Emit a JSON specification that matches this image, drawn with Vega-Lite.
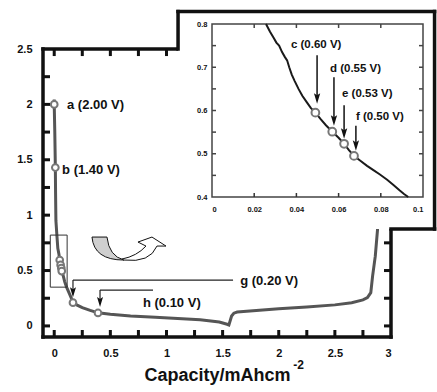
{
  "$schema": "https://vega.github.io/schema/vega-lite/v6.json",
  "width": 348,
  "height": 288,
  "autosize": {"type": "none"},
  "padding": {"left": 43, "top": 49, "right": 46, "bottom": 55},
  "background": "white",
  "config": {
    "view": {"stroke": null},
    "font": "Liberation Sans",
    "axis": {"grid": false, "ticks": false, "domain": false, "labelFont": "Liberation Sans", "labelFontWeight": "bold", "labelColor": "#111", "titleFont": "Liberation Sans"}
  },
  "datasets": {
    "main": [
      {"cap": 0, "v": 2.045}, {"cap": 0, "v": 2.0}, {"cap": 0.005, "v": 1.75}, {"cap": 0.01, "v": 1.43},
      {"cap": 0.012, "v": 1.2}, {"cap": 0.015, "v": 0.95}, {"cap": 0.025, "v": 0.8}, {"cap": 0.032, "v": 0.7},
      {"cap": 0.042, "v": 0.647}, {"cap": 0.049, "v": 0.595}, {"cap": 0.057, "v": 0.551}, {"cap": 0.063, "v": 0.523},
      {"cap": 0.067, "v": 0.495}, {"cap": 0.08, "v": 0.453}, {"cap": 0.093, "v": 0.4}, {"cap": 0.11, "v": 0.35},
      {"cap": 0.14, "v": 0.28}, {"cap": 0.167, "v": 0.215}, {"cap": 0.2, "v": 0.19}, {"cap": 0.25, "v": 0.165},
      {"cap": 0.32, "v": 0.14}, {"cap": 0.39, "v": 0.118}, {"cap": 0.5, "v": 0.105}, {"cap": 0.68, "v": 0.09},
      {"cap": 0.9, "v": 0.078}, {"cap": 1.1, "v": 0.067}, {"cap": 1.3, "v": 0.055}, {"cap": 1.47, "v": 0.035},
      {"cap": 1.54, "v": 0.015}, {"cap": 1.556, "v": 0.008}, {"cap": 1.58, "v": 0.09}, {"cap": 1.6, "v": 0.115},
      {"cap": 1.63, "v": 0.125}, {"cap": 1.8, "v": 0.14}, {"cap": 2.0, "v": 0.155}, {"cap": 2.25, "v": 0.17},
      {"cap": 2.5, "v": 0.19}, {"cap": 2.65, "v": 0.21}, {"cap": 2.75, "v": 0.235}, {"cap": 2.79, "v": 0.255},
      {"cap": 2.82, "v": 0.3}, {"cap": 2.836, "v": 0.45}, {"cap": 2.86, "v": 0.63}, {"cap": 2.88, "v": 0.87},
      {"cap": 2.9, "v": 1.2}, {"cap": 2.92, "v": 1.8}
    ],
    "mainPoints": [
      {"label": "a", "cap": 0, "v": 2.0}, {"label": "b", "cap": 0.01, "v": 1.43},
      {"label": "c", "cap": 0.049, "v": 0.595}, {"label": "d", "cap": 0.057, "v": 0.551},
      {"label": "e", "cap": 0.063, "v": 0.523}, {"label": "f", "cap": 0.067, "v": 0.495},
      {"label": "g", "cap": 0.167, "v": 0.21}, {"label": "h", "cap": 0.39, "v": 0.117}
    ],
    "mainArrows": [
      {"x1": 1.593, "y1": 0.414, "x2": 0.167, "y2": 0.414},
      {"x1": 0.167, "y1": 0.414, "x2": 0.167, "y2": 0.305},
      {"x1": 0.88, "y1": 0.324, "x2": 0.408, "y2": 0.324},
      {"x1": 0.408, "y1": 0.324, "x2": 0.408, "y2": 0.216}
    ],
    "mainHeads": [
      {"cap": 0.167, "v": 0.305}, {"cap": 0.408, "v": 0.216}
    ],
    "mainLabels": [
      {"text": "a (2.00 V)", "cap": 0.114, "v": 1.99},
      {"text": "b (1.40 V)", "cap": 0.07, "v": 1.407},
      {"text": "g (0.20 V)", "cap": 1.657, "v": 0.405},
      {"text": "h (0.10 V)", "cap": 0.79, "v": 0.206}
    ],
    "inset": [
      {"cap": 0.0256, "v": 0.8}, {"cap": 0.0275, "v": 0.782}, {"cap": 0.0292, "v": 0.768}, {"cap": 0.0305, "v": 0.757},
      {"cap": 0.0318, "v": 0.75}, {"cap": 0.0332, "v": 0.735}, {"cap": 0.0345, "v": 0.724}, {"cap": 0.0356, "v": 0.716},
      {"cap": 0.0366, "v": 0.7}, {"cap": 0.0378, "v": 0.683}, {"cap": 0.0392, "v": 0.668}, {"cap": 0.041, "v": 0.65},
      {"cap": 0.0428, "v": 0.634}, {"cap": 0.0448, "v": 0.62}, {"cap": 0.0468, "v": 0.606}, {"cap": 0.049, "v": 0.595},
      {"cap": 0.0515, "v": 0.58}, {"cap": 0.054, "v": 0.566}, {"cap": 0.057, "v": 0.551}, {"cap": 0.06, "v": 0.537},
      {"cap": 0.0626, "v": 0.523}, {"cap": 0.065, "v": 0.508}, {"cap": 0.0673, "v": 0.495}, {"cap": 0.07, "v": 0.485},
      {"cap": 0.0735, "v": 0.472}, {"cap": 0.0765, "v": 0.462}, {"cap": 0.0796, "v": 0.452}, {"cap": 0.083, "v": 0.44},
      {"cap": 0.086, "v": 0.428}, {"cap": 0.089, "v": 0.415}, {"cap": 0.091, "v": 0.407}, {"cap": 0.093, "v": 0.4}
    ],
    "insetPoints": [
      {"label": "c", "cap": 0.049, "v": 0.595}, {"label": "d", "cap": 0.057, "v": 0.551},
      {"label": "e", "cap": 0.0626, "v": 0.523}, {"label": "f", "cap": 0.0673, "v": 0.495}
    ],
    "insetArrows": [
      {"cap": 0.0498, "y1": 0.728, "y2": 0.628}, {"cap": 0.0578, "y1": 0.677, "y2": 0.577},
      {"cap": 0.0626, "y1": 0.612, "y2": 0.547}, {"cap": 0.0682, "y1": 0.565, "y2": 0.519}
    ],
    "insetLabels": [
      {"text": "c (0.60 V)", "cap": 0.0374, "v": 0.751},
      {"text": "d (0.55 V)", "cap": 0.0559, "v": 0.695},
      {"text": "e (0.53 V)", "cap": 0.0616, "v": 0.637},
      {"text": "f (0.50 V)", "cap": 0.0682, "v": 0.586}
    ]
  },
  "resolve": {"scale": {"x": "independent", "y": "independent"}, "axis": {"x": "independent", "y": "independent"}},
  "layer": [
    {
      "resolve": {"axis": {"x": "independent", "y": "independent"}},
      "layer": [
        {
          "data": {"name": "main"},
          "mark": {"type": "line", "color": "#555", "strokeWidth": 3},
          "encoding": {
            "x": {"field": "cap", "type": "quantitative", "scale": {"domain": [-0.1, 3]},
              "axis": {"orient": "bottom", "zindex": 1, "values": [0, 0.5, 1, 1.5, 2, 2.5, 3], "format": "~g",
                "labelPadding": 10, "labelFontSize": 11, "title": "Capacity/mAhcm", "titleFontSize": 18,
                "titleFontWeight": "bold", "titlePadding": 8, "titleColor": "#111"}},
            "y": {"field": "v", "type": "quantitative", "scale": {"domain": [-0.1, 2.5]},
              "axis": {"orient": "left", "zindex": 1, "values": [0, 0.5, 1, 1.5, 2, 2.5], "format": "~g",
                "labelPadding": 11, "labelFontSize": 11, "title": null}}
          }
        },
        {
          "data": {"values": [{}]},
          "mark": {"type": "rect", "fill": null, "stroke": "#333", "strokeWidth": 1},
          "encoding": {
            "x": {"datum": -0.035, "type": "quantitative", "scale": {"domain": [-0.1, 3]}, "axis": null},
            "x2": {"datum": 0.115},
            "y": {"datum": 0.35, "type": "quantitative", "scale": {"domain": [-0.1, 2.5]}, "axis": null},
            "y2": {"datum": 0.82}
          }
        },
        {
          "data": {"name": "mainPoints"},
          "mark": {"type": "point", "shape": "circle", "filled": true, "fill": "white", "stroke": "#777", "strokeWidth": 2, "size": 45, "opacity": 1},
          "encoding": {
            "x": {"field": "cap", "type": "quantitative", "scale": {"domain": [-0.1, 3]}, "axis": null},
            "y": {"field": "v", "type": "quantitative", "scale": {"domain": [-0.1, 2.5]}, "axis": null}
          }
        },
        {
          "data": {"name": "mainArrows"},
          "mark": {"type": "rule", "color": "#222", "strokeWidth": 1.2},
          "encoding": {
            "x": {"field": "x1", "type": "quantitative", "scale": {"domain": [-0.1, 3]}, "axis": null},
            "x2": {"field": "x2"},
            "y": {"field": "y1", "type": "quantitative", "scale": {"domain": [-0.1, 2.5]}, "axis": null},
            "y2": {"field": "y2"}
          }
        },
        {
          "data": {"name": "mainHeads"},
          "mark": {"type": "point", "shape": "M -0.6 -1 L 0 -0.6 L 0.6 -1 L 0 1 Z", "filled": true, "color": "#111", "size": 100, "opacity": 1},
          "encoding": {
            "x": {"field": "cap", "type": "quantitative", "scale": {"domain": [-0.1, 3]}, "axis": null},
            "y": {"field": "v", "type": "quantitative", "scale": {"domain": [-0.1, 2.5]}, "axis": null}
          }
        },
        {
          "data": {"name": "mainLabels"},
          "mark": {"type": "text", "align": "left", "baseline": "middle", "fontWeight": "bold", "fontSize": 13, "color": "#111"},
          "encoding": {
            "x": {"field": "cap", "type": "quantitative", "scale": {"domain": [-0.1, 3]}, "axis": null},
            "y": {"field": "v", "type": "quantitative", "scale": {"domain": [-0.1, 2.5]}, "axis": null},
            "text": {"field": "text"}
          }
        },
        {
          "data": {"values": [{}]},
          "mark": {"type": "point", "shape": "M -36 -12 L -21 -12 Q -19 7 -4 11 Q -34 11 -36 -12 Z", "size": 4, "filled": true, "fill": "#cfcfcf", "stroke": "#111", "strokeWidth": 1, "opacity": 1},
          "encoding": {
            "x": {"datum": 0.657, "type": "quantitative", "scale": {"domain": [-0.1, 3]}, "axis": null},
            "y": {"datum": 0.694, "type": "quantitative", "scale": {"domain": [-0.1, 2.5]}, "axis": null}
          }
        },
        {
          "data": {"values": [{}]},
          "mark": {"type": "point", "shape": "M -4 11 Q 22 14 29 -3 L 38 -3 L 24 -12 L 10 -7 L 18 -3 Q 9 7 -6 10 Z", "size": 4, "filled": true, "fill": "white", "stroke": "#111", "strokeWidth": 1, "opacity": 1},
          "encoding": {
            "x": {"datum": 0.657, "type": "quantitative", "scale": {"domain": [-0.1, 3]}, "axis": null},
            "y": {"datum": 0.694, "type": "quantitative", "scale": {"domain": [-0.1, 2.5]}, "axis": null}
          }
        },
        {
          "data": {"values": [{}]},
          "mark": {"type": "text", "text": "-2", "align": "left", "baseline": "middle", "fontWeight": "bold", "fontSize": 12, "color": "#111"},
          "encoding": {
            "x": {"datum": 2.13, "type": "quantitative", "scale": {"domain": [-0.1, 3]}, "axis": null},
            "y": {"datum": -0.35, "type": "quantitative", "scale": {"domain": [-0.1, 2.5]}, "axis": null}
          }
        },
        {
          "data": {"values": [{}]},
          "mark": {"type": "rule", "color": "#111", "strokeWidth": 3.5, "strokeCap": "square"},
          "encoding": {
            "x": {"datum": -0.1, "type": "quantitative", "scale": {"domain": [-0.1, 3]}, "axis": null},
            "x2": {"datum": 1.103},
            "y": {"datum": 2.5, "type": "quantitative", "scale": {"domain": [-0.1, 2.5]}, "axis": null}
          }
        },
        {
          "data": {"values": [{}]},
          "mark": {"type": "rule", "color": "#111", "strokeWidth": 3.5, "strokeCap": "square"},
          "encoding": {
            "x": {"datum": -0.1, "type": "quantitative", "scale": {"domain": [-0.1, 3]}, "axis": null},
            "x2": {"datum": 3.0},
            "y": {"datum": -0.1, "type": "quantitative", "scale": {"domain": [-0.1, 2.5]}, "axis": null}
          }
        },
        {
          "data": {"values": [{}]},
          "mark": {"type": "rule", "color": "#111", "strokeWidth": 3.5, "strokeCap": "square"},
          "encoding": {
            "x": {"datum": -0.1, "type": "quantitative", "scale": {"domain": [-0.1, 3]}, "axis": null},
            "y": {"datum": -0.1, "type": "quantitative", "scale": {"domain": [-0.1, 2.5]}, "axis": null},
            "y2": {"datum": 2.5}
          }
        },
        {
          "data": {"values": [{}]},
          "mark": {"type": "rule", "color": "#111", "strokeWidth": 3.5, "strokeCap": "square"},
          "encoding": {
            "x": {"datum": 3.0, "type": "quantitative", "scale": {"domain": [-0.1, 3]}, "axis": null},
            "y": {"datum": -0.1, "type": "quantitative", "scale": {"domain": [-0.1, 2.5]}, "axis": null},
            "y2": {"datum": 0.875}
          }
        },
        {
          "data": {"values": [{"pos": 0}, {"pos": 0.25}, {"pos": 0.5}, {"pos": 0.75}, {"pos": 1}, {"pos": 1.25}, {"pos": 1.5}, {"pos": 1.75}, {"pos": 2}, {"pos": 2.25}, {"pos": 2.5}, {"pos": 2.75}]},
          "mark": {"type": "point", "shape": "M -0.43 -1 L 0.43 -1 L 0.43 1 L -0.43 1 Z", "filled": true, "color": "#111", "size": 49, "opacity": 1},
          "encoding": {
            "x": {"field": "pos", "type": "quantitative", "scale": {"domain": [-0.1, 3]}, "axis": null},
            "y": {"datum": -0.0684, "type": "quantitative", "scale": {"domain": [-0.1, 2.5]}, "axis": null}
          }
        },
        {
          "data": {"values": [{"pos": 0}, {"pos": 0.25}, {"pos": 0.5}, {"pos": 0.75}, {"pos": 1}]},
          "mark": {"type": "point", "shape": "M -0.43 -1 L 0.43 -1 L 0.43 1 L -0.43 1 Z", "filled": true, "color": "#111", "size": 49, "opacity": 1},
          "encoding": {
            "x": {"field": "pos", "type": "quantitative", "scale": {"domain": [-0.1, 3]}, "axis": null},
            "y": {"datum": 2.468, "type": "quantitative", "scale": {"domain": [-0.1, 2.5]}, "axis": null}
          }
        },
        {
          "data": {"values": [{"pos": 0}, {"pos": 0.25}, {"pos": 0.5}, {"pos": 0.75}, {"pos": 1}, {"pos": 1.25}, {"pos": 1.5}, {"pos": 1.75}, {"pos": 2}, {"pos": 2.25}]},
          "mark": {"type": "point", "shape": "M -1 -0.43 L 1 -0.43 L 1 0.43 L -1 0.43 Z", "filled": true, "color": "#111", "size": 49, "opacity": 1},
          "encoding": {
            "y": {"field": "pos", "type": "quantitative", "scale": {"domain": [-0.1, 2.5]}, "axis": null},
            "x": {"datum": -0.0688, "type": "quantitative", "scale": {"domain": [-0.1, 3]}, "axis": null}
          }
        },
        {
          "data": {"values": [{"pos": 0}, {"pos": 0.25}, {"pos": 0.5}, {"pos": 0.75}]},
          "mark": {"type": "point", "shape": "M -1 -0.43 L 1 -0.43 L 1 0.43 L -1 0.43 Z", "filled": true, "color": "#111", "size": 49, "opacity": 1},
          "encoding": {
            "y": {"field": "pos", "type": "quantitative", "scale": {"domain": [-0.1, 2.5]}, "axis": null},
            "x": {"datum": 2.969, "type": "quantitative", "scale": {"domain": [-0.1, 3]}, "axis": null}
          }
        },
        {
          "data": {"values": [{}]},
          "mark": {"type": "rect", "fill": "white", "stroke": null},
          "encoding": {
            "x": {"datum": 1.103, "type": "quantitative", "scale": {"domain": [-0.1, 3]}, "axis": null},
            "x2": {"datum": 3.388},
            "y": {"datum": 0.875, "type": "quantitative", "scale": {"domain": [-0.1, 2.5]}, "axis": null},
            "y2": {"datum": 2.838}
          }
        },
        {
          "data": {"values": [{}]},
          "mark": {"type": "rule", "color": "#111", "strokeWidth": 3.5, "strokeCap": "square"},
          "encoding": {
            "x": {"datum": 1.103, "type": "quantitative", "scale": {"domain": [-0.1, 3]}, "axis": null},
            "x2": {"datum": 3.388},
            "y": {"datum": 2.838, "type": "quantitative", "scale": {"domain": [-0.1, 2.5]}, "axis": null}
          }
        },
        {
          "data": {"values": [{}]},
          "mark": {"type": "rule", "color": "#111", "strokeWidth": 3.5, "strokeCap": "square"},
          "encoding": {
            "x": {"datum": 1.103, "type": "quantitative", "scale": {"domain": [-0.1, 3]}, "axis": null},
            "y": {"datum": 2.5, "type": "quantitative", "scale": {"domain": [-0.1, 2.5]}, "axis": null},
            "y2": {"datum": 2.838}
          }
        },
        {
          "data": {"values": [{}]},
          "mark": {"type": "rule", "color": "#111", "strokeWidth": 3.5, "strokeCap": "square"},
          "encoding": {
            "x": {"datum": 3.388, "type": "quantitative", "scale": {"domain": [-0.1, 3]}, "axis": null},
            "y": {"datum": 0.875, "type": "quantitative", "scale": {"domain": [-0.1, 2.5]}, "axis": null},
            "y2": {"datum": 2.838}
          }
        },
        {
          "data": {"values": [{}]},
          "mark": {"type": "rule", "color": "#111", "strokeWidth": 3.5, "strokeCap": "square"},
          "encoding": {
            "x": {"datum": 3.0, "type": "quantitative", "scale": {"domain": [-0.1, 3]}, "axis": null},
            "x2": {"datum": 3.388},
            "y": {"datum": 0.875, "type": "quantitative", "scale": {"domain": [-0.1, 2.5]}, "axis": null}
          }
        }
      ]
    },
    {
      "resolve": {"axis": {"x": "independent", "y": "independent"}},
      "layer": [
        {
          "data": {"values": [{}]},
          "mark": {"type": "rect", "fill": null, "stroke": "#444", "strokeWidth": 1.5},
          "encoding": {
            "x": {"datum": 0, "type": "quantitative", "scale": {"domain": [0, 0.1], "range": [169, 380]}, "axis": null},
            "x2": {"datum": 0.1},
            "y": {"datum": 0.4, "type": "quantitative", "scale": {"domain": [0.4, 0.8], "range": [148, -25]}, "axis": null},
            "y2": {"datum": 0.8}
          }
        },
        {
          "data": {"name": "inset"},
          "mark": {"type": "line", "color": "#1a1a1a", "strokeWidth": 2},
          "encoding": {
            "x": {"field": "cap", "type": "quantitative", "scale": {"domain": [0, 0.1], "range": [169, 380]},
              "axis": {"orient": "bottom", "offset": -140, "zindex": 1, "values": [0, 0.02, 0.04, 0.06, 0.08, 0.1],
                "format": "~g", "labelPadding": 8, "labelFontSize": 7.5, "title": null}},
            "y": {"field": "v", "type": "quantitative", "scale": {"domain": [0.4, 0.8], "range": [148, -25]},
              "axis": {"orient": "left", "offset": -169, "zindex": 1, "values": [0.4, 0.5, 0.6, 0.7, 0.8],
                "format": "~g", "labelPadding": 5, "labelFontSize": 7.5, "title": null}}
          }
        },
        {
          "data": {"name": "insetPoints"},
          "mark": {"type": "point", "shape": "circle", "filled": true, "fill": "white", "stroke": "#777", "strokeWidth": 2, "size": 60, "opacity": 1},
          "encoding": {
            "x": {"field": "cap", "type": "quantitative", "scale": {"domain": [0, 0.1], "range": [169, 380]}, "axis": null},
            "y": {"field": "v", "type": "quantitative", "scale": {"domain": [0.4, 0.8], "range": [148, -25]}, "axis": null}
          }
        },
        {
          "data": {"name": "insetArrows"},
          "mark": {"type": "rule", "color": "#111", "strokeWidth": 1.5},
          "encoding": {
            "x": {"field": "cap", "type": "quantitative", "scale": {"domain": [0, 0.1], "range": [169, 380]}, "axis": null},
            "y": {"field": "y1", "type": "quantitative", "scale": {"domain": [0.4, 0.8], "range": [148, -25]}, "axis": null},
            "y2": {"field": "y2"}
          }
        },
        {
          "data": {"name": "insetArrows"},
          "mark": {"type": "point", "shape": "M -0.6 -1 L 0 -0.6 L 0.6 -1 L 0 1 Z", "filled": true, "color": "#111", "size": 110, "opacity": 1},
          "encoding": {
            "x": {"field": "cap", "type": "quantitative", "scale": {"domain": [0, 0.1], "range": [169, 380]}, "axis": null},
            "y": {"field": "y2", "type": "quantitative", "scale": {"domain": [0.4, 0.8], "range": [148, -25]}, "axis": null}
          }
        },
        {
          "data": {"name": "insetLabels"},
          "mark": {"type": "text", "align": "left", "baseline": "middle", "fontWeight": "bold", "fontSize": 11.5, "color": "#111"},
          "encoding": {
            "x": {"field": "cap", "type": "quantitative", "scale": {"domain": [0, 0.1], "range": [169, 380]}, "axis": null},
            "y": {"field": "v", "type": "quantitative", "scale": {"domain": [0.4, 0.8], "range": [148, -25]}, "axis": null},
            "text": {"field": "text"}
          }
        },
        {
          "data": {"values": [{"pos": 0.02}, {"pos": 0.04}, {"pos": 0.06}, {"pos": 0.08}]},
          "mark": {"type": "point", "shape": "M -0.375 -1 L 0.375 -1 L 0.375 1 L -0.375 1 Z", "filled": true, "color": "#333", "size": 16, "opacity": 1},
          "encoding": {
            "x": {"field": "pos", "type": "quantitative", "scale": {"domain": [0, 0.1], "range": [169, 380]}, "axis": null},
            "y": {"datum": 0.4046, "type": "quantitative", "scale": {"domain": [0.4, 0.8], "range": [148, -25]}, "axis": null}
          }
        },
        {
          "data": {"values": [{"pos": 0.02}, {"pos": 0.04}, {"pos": 0.06}, {"pos": 0.08}]},
          "mark": {"type": "point", "shape": "M -0.375 -1 L 0.375 -1 L 0.375 1 L -0.375 1 Z", "filled": true, "color": "#444", "size": 16, "opacity": 1},
          "encoding": {
            "x": {"field": "pos", "type": "quantitative", "scale": {"domain": [0, 0.1], "range": [169, 380]}, "axis": null},
            "y": {"datum": 0.7954, "type": "quantitative", "scale": {"domain": [0.4, 0.8], "range": [148, -25]}, "axis": null}
          }
        },
        {
          "data": {"values": [{"pos": 0.45}, {"pos": 0.5}, {"pos": 0.55}, {"pos": 0.6}, {"pos": 0.65}, {"pos": 0.7}, {"pos": 0.75}]},
          "mark": {"type": "point", "shape": "M -1 -0.375 L 1 -0.375 L 1 0.375 L -1 0.375 Z", "filled": true, "color": "#444", "size": 16, "opacity": 1},
          "encoding": {
            "y": {"field": "pos", "type": "quantitative", "scale": {"domain": [0.4, 0.8], "range": [148, -25]}, "axis": null},
            "x": {"datum": 0.00095, "type": "quantitative", "scale": {"domain": [0, 0.1], "range": [169, 380]}, "axis": null}
          }
        },
        {
          "data": {"values": [{"pos": 0.45}, {"pos": 0.5}, {"pos": 0.55}, {"pos": 0.6}, {"pos": 0.65}, {"pos": 0.7}, {"pos": 0.75}]},
          "mark": {"type": "point", "shape": "M -1 -0.375 L 1 -0.375 L 1 0.375 L -1 0.375 Z", "filled": true, "color": "#444", "size": 16, "opacity": 1},
          "encoding": {
            "y": {"field": "pos", "type": "quantitative", "scale": {"domain": [0.4, 0.8], "range": [148, -25]}, "axis": null},
            "x": {"datum": 0.09905, "type": "quantitative", "scale": {"domain": [0, 0.1], "range": [169, 380]}, "axis": null}
          }
        }
      ]
    }
  ]
}
